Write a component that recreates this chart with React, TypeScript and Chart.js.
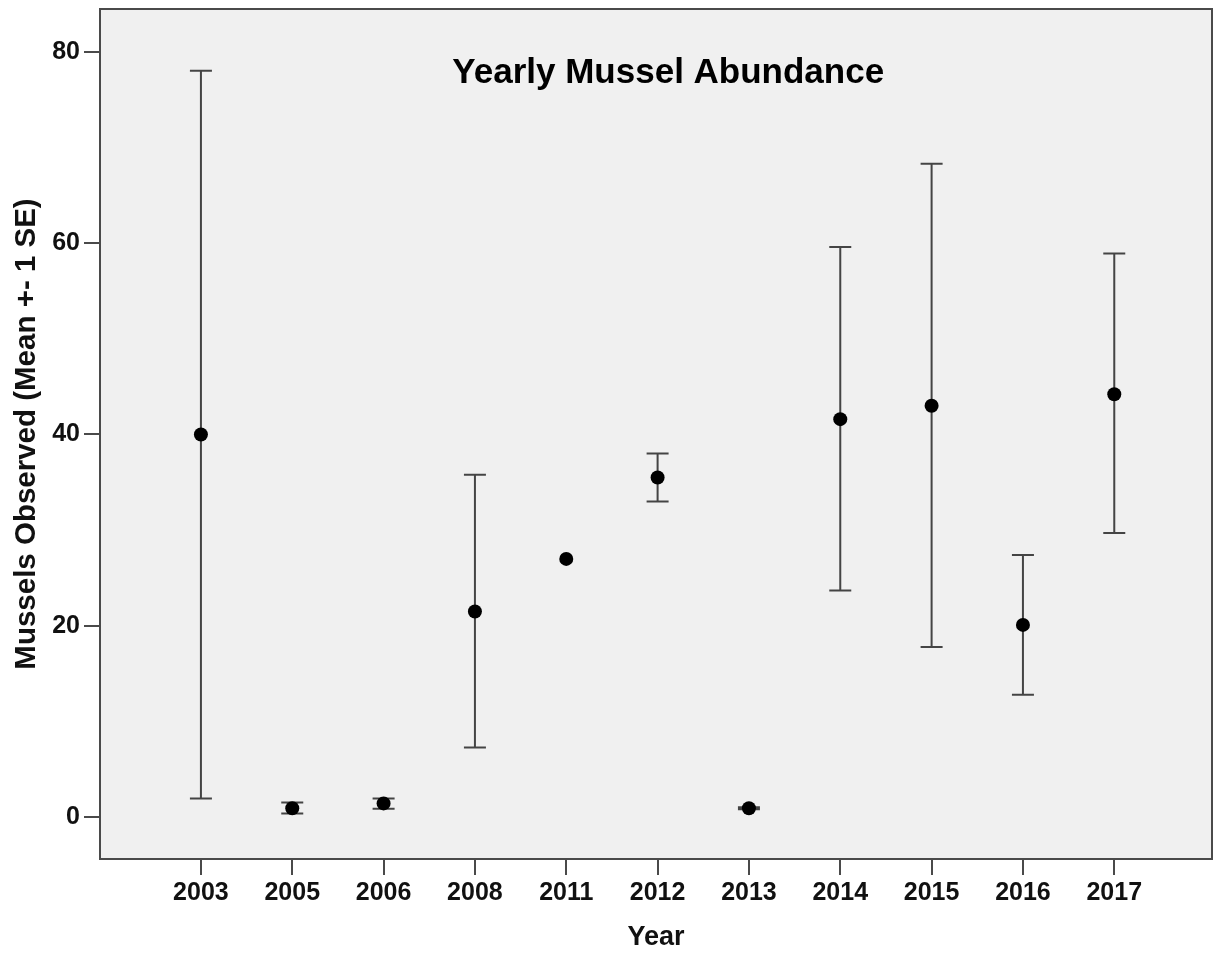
import React, { useEffect, useRef } from "react";
import { Chart, registerables } from "chart.js";

Chart.register(...registerables);

const years = ["2003", "2005", "2006", "2008", "2011", "2012", "2013", "2014", "2015", "2016", "2017"];
const means = [40.0, 0.95, 1.45, 21.5, 27.0, 35.5, 0.95, 41.6, 43.0, 20.1, 44.2];
const lowerSE = [1.95, 0.4, 0.9, 7.3, 27.0, 33.0, 0.85, 23.7, 17.8, 12.8, 29.7];
const upperSE = [78.0, 1.55, 1.95, 35.8, 27.0, 38.0, 1.05, 59.6, 68.3, 27.4, 58.9];
const yTickValues = [0, 20, 40, 60, 80];

const chartTitle = "Yearly Mussel Abundance";
const xTitle = "Year";
const yTitle = "Mussels Observed (Mean +- 1 SE)";

const NARROW = "'Liberation Sans Narrow', 'Arial Narrow', 'Liberation Sans', Arial, sans-serif";
const SANS = "'Liberation Sans', Arial, sans-serif";
const AXIS_COLOR = "#4a4a4a";

const backgroundPlugin = {
  id: "bgPlot",
  beforeDraw(chart: any) {
    const { ctx, chartArea } = chart;
    ctx.save();
    ctx.fillStyle = "#ffffff";
    ctx.fillRect(0, 0, chart.width, chart.height);
    ctx.fillStyle = "#f0f0f0";
    ctx.fillRect(chartArea.left, chartArea.top, chartArea.right - chartArea.left, chartArea.bottom - chartArea.top);
    ctx.restore();
  },
  afterDraw(chart: any) {
    const { ctx, chartArea } = chart;
    ctx.save();
    ctx.strokeStyle = AXIS_COLOR;
    ctx.lineWidth = 2;
    ctx.strokeRect(chartArea.left, chartArea.top, chartArea.right - chartArea.left, chartArea.bottom - chartArea.top);
    // in-plot title
    ctx.fillStyle = "#000000";
    ctx.font = `bold 35px ${SANS}`;
    ctx.textAlign = "center";
    ctx.textBaseline = "alphabetic";
    const cx = chartArea.left + (chartArea.right - chartArea.left) * 0.511;
    ctx.fillText(chartTitle, cx, chartArea.top + 74);
    ctx.restore();
  },
};

const errorBarPlugin = {
  id: "errorBars",
  beforeDatasetsDraw(chart: any) {
    const { ctx, scales } = chart;
    const xs = scales.x;
    const ys = scales.y;
    ctx.save();
    ctx.strokeStyle = "#444444";
    ctx.lineWidth = 2;
    const half = 11;
    years.forEach((_, i) => {
      if (upperSE[i] === lowerSE[i]) return;
      const x = xs.getPixelForValue(i);
      const yl = ys.getPixelForValue(lowerSE[i]);
      const yu = ys.getPixelForValue(upperSE[i]);
      ctx.beginPath();
      ctx.moveTo(x, yl);
      ctx.lineTo(x, yu);
      ctx.moveTo(x - half, yu);
      ctx.lineTo(x + half, yu);
      ctx.moveTo(x - half, yl);
      ctx.lineTo(x + half, yl);
      ctx.stroke();
    });
    ctx.restore();
  },
};

export default function App() {
  const canvasRef = useRef<HTMLCanvasElement | null>(null);

  useEffect(() => {
    document.body.style.margin = "0";
    const canvas = canvasRef.current;
    if (!canvas) return;
    const chart = new Chart(canvas, {
      type: "scatter",
      data: {
        datasets: [
          {
            label: "Mean",
            data: means.map((m, i) => ({ x: i, y: m })),
            pointRadius: 7,
            pointHoverRadius: 7,
            pointBackgroundColor: "#000000",
            pointBorderColor: "#000000",
            pointBorderWidth: 0,
            showLine: false,
          },
        ],
      },
      options: {
        responsive: false,
        animation: false,
        devicePixelRatio: 1,
        layout: { padding: { left: 0, right: 6, top: 9, bottom: 0 } },
        plugins: {
          legend: { display: false },
          tooltip: { enabled: false },
          title: { display: false },
        },
        scales: {
          x: {
            type: "linear",
            min: -1.105,
            max: 11.07,
            afterBuildTicks: (axis: any) => {
              axis.ticks = years.map((_, i) => ({ value: i }));
            },
            afterFit: (axis: any) => {
              axis.height = 97;
              axis.paddingLeft = 0;
              axis.paddingRight = 0;
            },
            grid: {
              drawOnChartArea: false,
              drawTicks: true,
              tickLength: 16,
              color: AXIS_COLOR,
              lineWidth: 2,
            },
            border: { display: false },
            ticks: {
              autoSkip: false,
              maxRotation: 0,
              padding: 3,
              color: "#111111",
              font: { family: NARROW, size: 25, weight: "bold" },
              callback: (v: any) => years[Math.round(Number(v))] ?? "",
            },
            title: {
              display: true,
              text: xTitle,
              color: "#111111",
              font: { family: SANS, size: 27, weight: "bold" },
              padding: { top: 2, bottom: 2 },
            },
          },
          y: {
            type: "linear",
            min: -4.36,
            max: 84.46,
            afterBuildTicks: (axis: any) => {
              axis.ticks = yTickValues.map((v) => ({ value: v }));
            },
            afterFit: (axis: any) => {
              axis.width = 100;
              axis.paddingTop = 0;
              axis.paddingBottom = 0;
            },
            grid: {
              drawOnChartArea: false,
              drawTicks: true,
              tickLength: 16,
              color: AXIS_COLOR,
              lineWidth: 2,
            },
            border: { display: false },
            ticks: {
              padding: 4,
              color: "#111111",
              font: { family: NARROW, size: 25, weight: "bold" },
              callback: (v: any) => String(v),
            },
            title: {
              display: true,
              text: yTitle,
              color: "#111111",
              font: { family: SANS, size: 29.5, weight: "bold" },
              padding: { top: 9, bottom: 0 },
            },
          },
        },
      },
      plugins: [backgroundPlugin, errorBarPlugin],
    });
    return () => chart.destroy();
  }, []);

  return (
    <div style={{ width: 1219, height: 956 }}>
      <canvas ref={canvasRef} width={1219} height={956} style={{ display: "block" }} />
    </div>
  );
}
